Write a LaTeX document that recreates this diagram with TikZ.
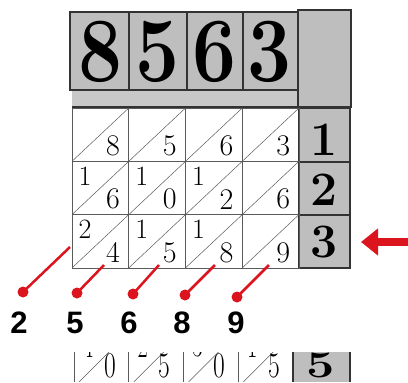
\documentclass[tikz,border=0pt]{standalone}
\usepackage{fontspec}
\newfontfamily\labelfont{Liberation Sans}
\usetikzlibrary{positioning,arrows.meta}
\definecolor{hdrgray}{RGB}{190,190,190}
\definecolor{stripgray}{RGB}{200,200,200}
\definecolor{pinred}{RGB}{220,20,30}
\definecolor{gridline}{RGB}{90,90,90}

\begin{document}
\begin{tikzpicture}[x=1pt, y=-1pt, every node/.style={inner sep=0pt}]
  \tikzset{
    hdr/.style={draw=black!80, line width=1.2pt, fill=hdrgray},
    cellbox/.style={draw=gridline, line width=0.8pt},
    diag/.style={draw=gridline, line width=0.5pt},
    unit/.style={font=\fontsize{30}{30}\selectfont},
    tens/.style={font=\fontsize{28}{28}\selectfont},
    bigdig/.style={font=\fontsize{92}{92}\selectfont\bfseries},
    rowdig/.style={font=\fontsize{48}{48}\selectfont\bfseries},
    pin/.style={circle, fill=pinred, minimum size=11pt},
    lead/.style={draw=pinred, line width=2.5pt},
    result/.style={font=\labelfont\bfseries\fontsize{31}{31}\selectfont}
  }
  \useasboundingbox (0,0) rectangle (408,383);

  % multiplicand on top
  \fill[stripgray] (72,90) rectangle (299,107);
  \draw[hdr] (70,12) rectangle (129,90);
  \draw[hdr] (129,12) rectangle (187,90);
  \draw[hdr] (187,12) rectangle (243,90);
  \draw[hdr] (243,12) rectangle (298,90);
  \draw[hdr] (298,10) rectangle (351,107);
  \draw[black!80, line width=1.2pt] (72,107) -- (298,107);
  \node[bigdig] (m1) at (101,52) {\scalebox{0.85}[1]{8}};
  \node[bigdig] (m2) at (158,52) {\scalebox{0.85}[1]{5}};
  \node[bigdig] (m3) at (215,52) {\scalebox{0.85}[1]{6}};
  \node[bigdig] (m4) at (270,52) {\scalebox{0.85}[1]{3}};

  % multiplier digits on the right
  \draw[hdr] (299,108) rectangle (350,162);
  \draw[hdr] (299,162) rectangle (350,215);
  \draw[hdr] (299,215) rectangle (350,268);
  \node[rowdig] (r1) at (324,140) {1};
  \node[rowdig] (r2) at (324,190) {2};
  \node[rowdig] (r3) at (324,242) {3};

  % lattice cells
  \foreach \t/\u [count=\i from 0] in {/8,/5,/6,/3,1/6,1/0,1/2,/6,2/4,1/5,1/8,/9} {
    \pgfmathsetmacro\cx{72+56.75*mod(\i,4)}
    \pgfmathsetmacro\cy{108+53.3*int(\i/4)}
    \draw[cellbox] (\cx,\cy) rectangle ++(56.75,53.3);
    \draw[diag] (\cx,\cy+53.3) -- ++(56.75,-53.3);
    \node[tens] (t\i) at (\cx+13,\cy+15) {\t};
    \node[unit] (u\i) at (\cx+41,\cy+38) {\u};
  }

  % next row, cut off
  \begin{scope}
    \clip (60,352) rectangle (360,381);
    \foreach \t/\u [count=\i from 0] in {4/0,2/5,3/0,1/5} {
      \pgfmathsetmacro\cx{74+54.75*\i}
      \draw[cellbox] (\cx,330) rectangle ++(54.75,60);
      \draw[diag] (\cx+5,382) -- ++(40,-40);
      \node[tens] (bt\i) at (\cx+14,346) {\scalebox{0.8}[1.2]{\t}};
      \node[unit] (bu\i) at (\cx+36,365.5) {\scalebox{0.85}[1.2]{\u}};
    }
    \draw[hdr] (293,340) rectangle (350,390);
    \node[rowdig] (r5) at (321,365) {\scalebox{1.05}[0.78]{5}};
  \end{scope}

  % arrow to the current row
  \coordinate (tail) at (408,242);
  \coordinate (tip) at (361,242);
  \draw[pinred, line width=8pt, -{Triangle[length=17pt, width=26pt]}] (tail) -- (tip);

  % product digits
  \node[pin] (p1) at (23,292) {};
  \node[pin] (p2) at (77,293) {};
  \node[pin] (p3) at (133,294) {};
  \node[pin] (p4) at (185,295) {};
  \node[pin] (p5) at (237,297) {};
  \coordinate (e1) at (70,247);
  \coordinate (e2) at (104,265);
  \coordinate (e3) at (159,265);
  \coordinate (e4) at (215,265);
  \coordinate (e5) at (269,265);
  \draw[lead] (p1.center) -- (e1);
  \draw[lead] (p2.center) -- (e2);
  \draw[lead] (p3.center) -- (e3);
  \draw[lead] (p4.center) -- (e4);
  \draw[lead] (p5.center) -- (e5);
  \node[result] (d1) at (19,323) {2};
  \node[result] (d2) at (75,323) {5};
  \node[result] (d3) at (129,323) {6};
  \node[result] (d4) at (182,323) {8};
  \node[result] (d5) at (236,323) {9};
\end{tikzpicture}
\end{document}
